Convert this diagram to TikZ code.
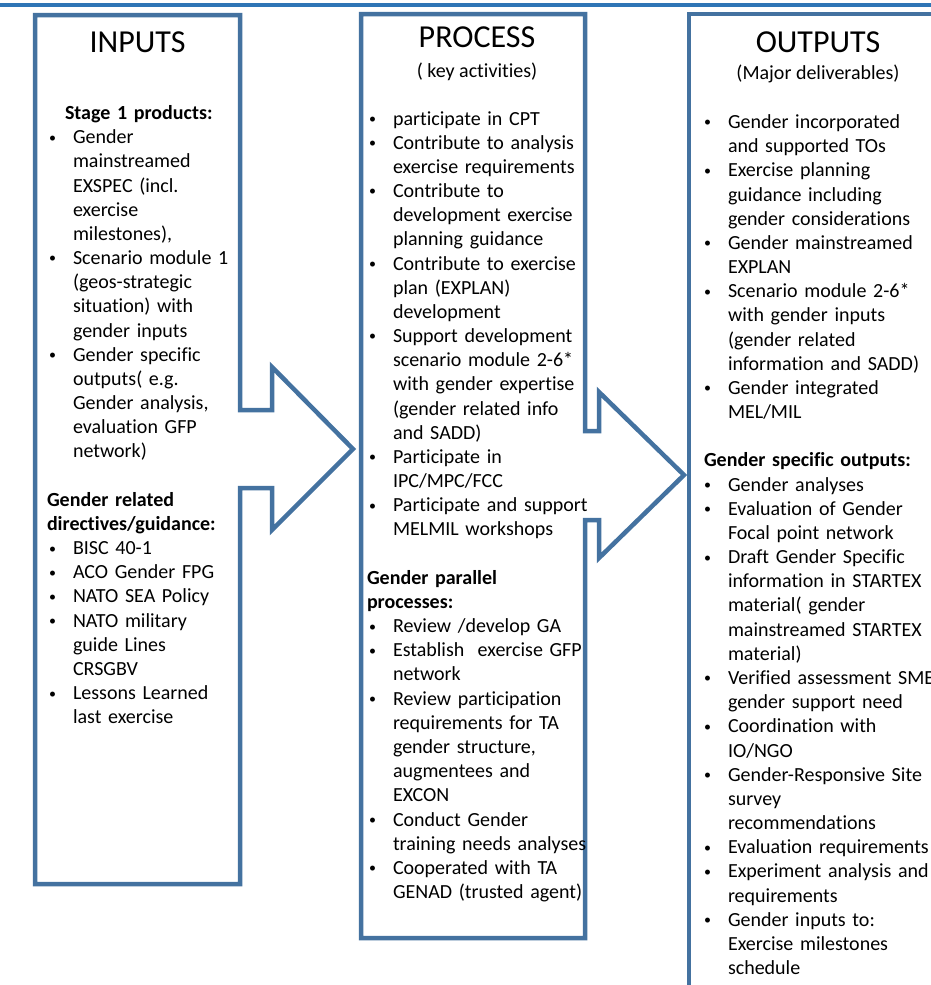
\documentclass[tikz,border=0pt]{standalone}
\usepackage{fontspec}
\setmainfont{Carlito}[Ligatures=NoCommon]
\newdimen\pxu \pxu=0.75pt
\newcommand\nl{\newline}
\newcommand\smallbullet{\hspace*{2\pxu}\raisebox{1.6\pxu}{\fontsize{10.5}{10.5}\selectfont\textbullet}}
\newcommand\bitem[1]{\hangindent=26\pxu\hangafter=1\noindent\makebox[26\pxu][l]{\smallbullet}#1\par}
\newcommand\gapline{\par\vspace{\baselineskip}}
\definecolor{boxblue}{RGB}{68,114,160}
\definecolor{topblue}{RGB}{46,117,182}
\tikzset{
  frame/.style={draw=boxblue, line width=4.5\pxu, line join=miter},
  topline/.style={draw=topblue, line width=4.5\pxu},
  txt/.style={inner sep=0pt, outer sep=0pt, align=left, anchor=base west, font=\fontsize{15}{18.13}\selectfont},
  ttl/.style={inner sep=0pt, anchor=base, font=\fontsize{24}{28}\selectfont},
  sub/.style={inner sep=0pt, anchor=base, font=\fontsize{15}{18}\selectfont}
}
\begin{document}
\begin{tikzpicture}[x=0.75pt, y=-0.75pt]
\clip (0,0) rectangle (931,985);
\fill[white] (0,0) rectangle (931,985);
% top rule
\draw[topline] (0,5) -- (931,5);
% frames with arrows
\draw[frame] (35,15) -- (240,15) -- (240,410) -- (272,410) -- (272,367) -- (353,449)
  -- (272,530) -- (272,488) -- (240,488) -- (240,884) -- (35,884) -- cycle;
\draw[frame] (361,14) -- (585,14) -- (585,431) -- (599,431) -- (599,392) -- (684,475)
  -- (599,558) -- (599,520) -- (585,520) -- (585,938) -- (361,938) -- cycle;
\draw[frame] (689,14) rectangle (960,1010);
% titles
\node[ttl] (tin) at (137.5,52) {INPUTS};
\node[ttl] (tpr) at (477,47) {PROCESS};
\node[sub] (spr) at (477,77) {( key activities)};
\node[ttl] (tout) at (818,52) {OUTPUTS};
\node[sub] (sout) at (818,79) {(Major deliverables)};
% inputs text
\node[txt, text width=188\pxu] (inlist) at (47,119.5) {%
\hspace*{18\pxu}\textbf{Stage 1 products:}\par
\bitem{Gender\nl mainstreamed\nl EXSPEC (incl.\nl exercise\nl milestones),}
\bitem{Scenario module 1\nl (geos-strategic\nl situation) with\nl gender inputs}
\bitem{Gender specific\nl outputs( e.g.\nl Gender analysis,\nl evaluation GFP\nl network)}
\gapline
\textbf{Gender related\\directives/guidance:}\par
\bitem{BISC 40-1}
\bitem{ACO Gender FPG}
\bitem{NATO SEA Policy}
\bitem{NATO military\nl guide Lines\nl CRSGBV}
\bitem{Lessons Learned\nl last exercise}};
% process text
\node[txt, text width=240\pxu] (prlist) at (367,125) {%
\bitem{participate in CPT}
\bitem{Contribute to analysis\nl exercise requirements}
\bitem{Contribute to\nl development exercise\nl planning guidance}
\bitem{Contribute to exercise\nl plan (EXPLAN)\nl development}
\bitem{Support development\nl scenario module 2-6*\nl with gender expertise\nl (gender related info\nl and SADD)}
\bitem{Participate in\nl IPC/MPC/FCC}
\bitem{Participate and support\nl MELMIL workshops}
\gapline
\textbf{Gender parallel\\processes:}\par
\bitem{Review /develop GA}
\bitem{Establish\ \ exercise GFP\nl network}
\bitem{Review participation\nl requirements for TA\nl gender structure,\nl augmentees and\nl EXCON}
\bitem{Conduct Gender\nl training needs analyses}
\bitem{Cooperated with TA\nl GENAD (trusted agent)}};
% outputs text
\node[txt, text width=250\pxu] (outlist) at (702,128.5) {%
\bitem{Gender incorporated\nl and supported TOs}
\bitem{Exercise planning\nl guidance including\nl gender considerations}
\bitem{Gender mainstreamed\nl EXPLAN}
\bitem{Scenario module 2-6*\nl with gender inputs\nl (gender related\nl information and SADD)}
\bitem{Gender integrated\nl MEL/MIL}
\gapline
\hspace*{2\pxu}\textbf{Gender specific outputs:}\par
\bitem{Gender analyses}
\bitem{Evaluation of Gender\nl Focal point network}
\bitem{Draft Gender Specific\nl information in STARTEX\nl material( gender\nl mainstreamed STARTEX\nl material)}
\bitem{Verified assessment SME\nl gender support need}
\bitem{Coordination with\nl IO/NGO}
\bitem{Gender-Responsive Site\nl survey\nl recommendations}
\bitem{Evaluation requirements}
\bitem{Experiment analysis and\nl requirements}
\bitem{Gender inputs to:\nl Exercise milestones\nl schedule}};
\end{tikzpicture}
\end{document}
